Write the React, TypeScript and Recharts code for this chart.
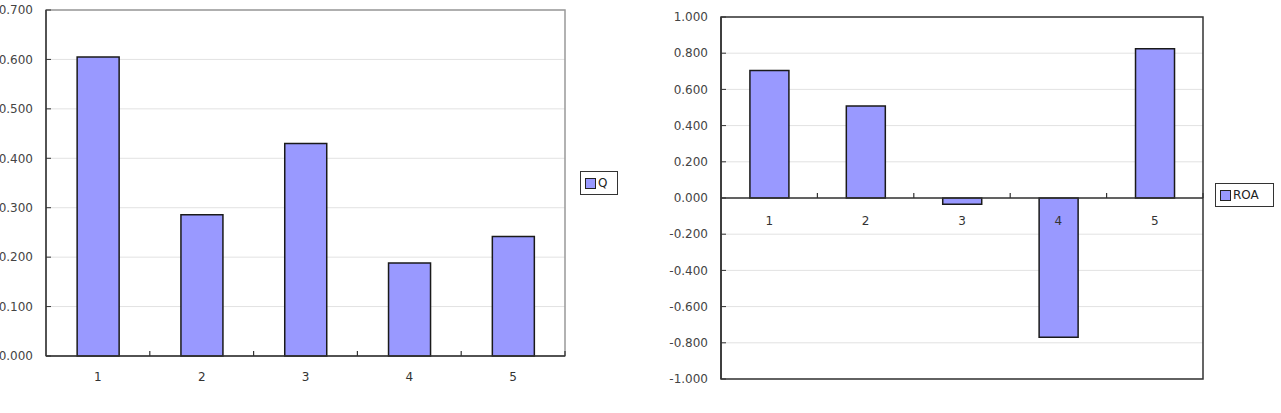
import {
  BarChart, Bar, XAxis, YAxis, CartesianGrid, Legend, ReferenceLine, ReferenceArea,
} from 'recharts';

const groups = ['1', '2', '3', '4', '5'];
const qValues = [0.605, 0.286, 0.43, 0.188, 0.242];
const roaValues = [0.705, 0.508, -0.035, -0.77, 0.824];
const qTicks = [0, 0.1, 0.2, 0.3, 0.4, 0.5, 0.6, 0.7];
const roaTicks = [-1, -0.8, -0.6, -0.4, -0.2, 0, 0.2, 0.4, 0.6, 0.8, 1];

const FONT = '"DejaVu Sans", sans-serif';
const BAR_FILL = '#9999ff';
const DARK = '#333';

const qData = groups.map((g, i) => ({ name: g, Q: qValues[i] }));
const roaData = groups.map((g, i) => ({ name: g, ROA: roaValues[i] }));

// category label plus a small tick at the right edge of each band;
// shift moves the pair up to where the category line really is
function CategoryTick(props: any) {
  const { x, y, payload, shift = 0, gap = 25 } = props;
  const axisY = y - shift;
  const edge = x + (payload.offset ?? 0);
  return (
    <g>
      <line x1={edge} x2={edge} y1={axisY - 5} y2={axisY} stroke={DARK} strokeWidth={1.2} />
      <text x={x} y={axisY + gap} textAnchor="middle" fontSize={12} fontFamily={FONT} fill={DARK}>
        {payload.value}
      </text>
    </g>
  );
}

function BoxLegend({ label, width, gapLeft }: { label: string; width: number; gapLeft: number }) {
  return (
    <div style={{ paddingLeft: gapLeft }}>
      <div
        style={{
          boxSizing: 'border-box',
          width,
          height: 24,
          border: `1.5px solid ${DARK}`,
          display: 'flex',
          alignItems: 'center',
          padding: '0 4px',
          gap: 2,
          fontFamily: FONT,
          fontSize: 12,
          color: '#222',
          background: '#fff',
        }}
      >
        <span style={{ width: 9, height: 9, background: BAR_FILL, border: '1.5px solid #222' }} />
        <span>{label}</span>
      </div>
    </div>
  );
}

const yTick = { fontSize: 12, fontFamily: FONT, fill: '#444' };

function QChart() {
  return (
    <BarChart
      width={640}
      height={413}
      data={qData}
      margin={{ top: 10, right: 22, bottom: 27, left: 0 }}
      barCategoryGap="30%"
    >
      <CartesianGrid vertical={false} stroke="#e2e2e2" />
      <ReferenceArea y1={0} y2={0.7} fill="none" stroke="#999" strokeWidth={1.5} />
      <YAxis
        domain={[0, 0.7]}
        ticks={qTicks}
        tickFormatter={(v: number) => v.toFixed(3)}
        width={46}
        tick={yTick}
        tickSize={-5}
        tickMargin={18}
        axisLine={{ stroke: DARK, strokeWidth: 1.5 }}
        tickLine={{ stroke: DARK }}
      />
      <Bar dataKey="Q" fill={BAR_FILL} stroke="#1a1a1a" strokeWidth={1.5} isAnimationActive={false} />
      <XAxis
        dataKey="name"
        height={30}
        tickSize={0}
        tickMargin={0}
        axisLine={{ stroke: DARK, strokeWidth: 1.5 }}
        tickLine={false}
        tick={<CategoryTick gap={25} />}
      />
      <Legend
        layout="vertical"
        align="right"
        verticalAlign="middle"
        wrapperStyle={{ top: 171, right: 22 }}
        content={<BoxLegend label="Q" width={38} gapLeft={15} />}
      />
    </BarChart>
  );
}

const ROA_PLOT_H = 362;

function RoaChart() {
  return (
    <BarChart
      width={641}
      height={413}
      data={roaData}
      margin={{ top: 17, right: 7, bottom: 24, left: 0 }}
      barCategoryGap="30%"
    >
      <CartesianGrid vertical={false} stroke="#e2e2e2" />
      <ReferenceArea y1={-1} y2={1} fill="none" stroke={DARK} strokeWidth={1.5} />
      <YAxis
        domain={[-1, 1]}
        ticks={roaTicks}
        tickFormatter={(v: number) => v.toFixed(3)}
        width={81}
        tick={yTick}
        tickSize={-5}
        tickMargin={18}
        axisLine={{ stroke: DARK, strokeWidth: 1.5 }}
        tickLine={{ stroke: DARK }}
      />
      <ReferenceLine y={0} stroke={DARK} strokeWidth={1.5} />
      <Bar dataKey="ROA" fill={BAR_FILL} stroke="#1a1a1a" strokeWidth={1.5} isAnimationActive={false} />
      <XAxis
        dataKey="name"
        height={10}
        tickSize={0}
        tickMargin={0}
        axisLine={false}
        tickLine={false}
        tick={<CategoryTick shift={ROA_PLOT_H / 2} gap={27} />}
      />
      <Legend
        layout="vertical"
        align="right"
        verticalAlign="middle"
        wrapperStyle={{ top: 183, right: 7 }}
        content={<BoxLegend label="ROA" width={59} gapLeft={12} />}
      />
    </BarChart>
  );
}

export default function App() {
  return (
    <div style={{ position: 'absolute', left: 0, top: 0, width: 1281, height: 413, background: '#fff' }}>
      <div style={{ position: 'absolute', left: 0, top: 0 }}>
        <QChart />
      </div>
      <div style={{ position: 'absolute', left: 640, top: 0 }}>
        <RoaChart />
      </div>
    </div>
  );
}
